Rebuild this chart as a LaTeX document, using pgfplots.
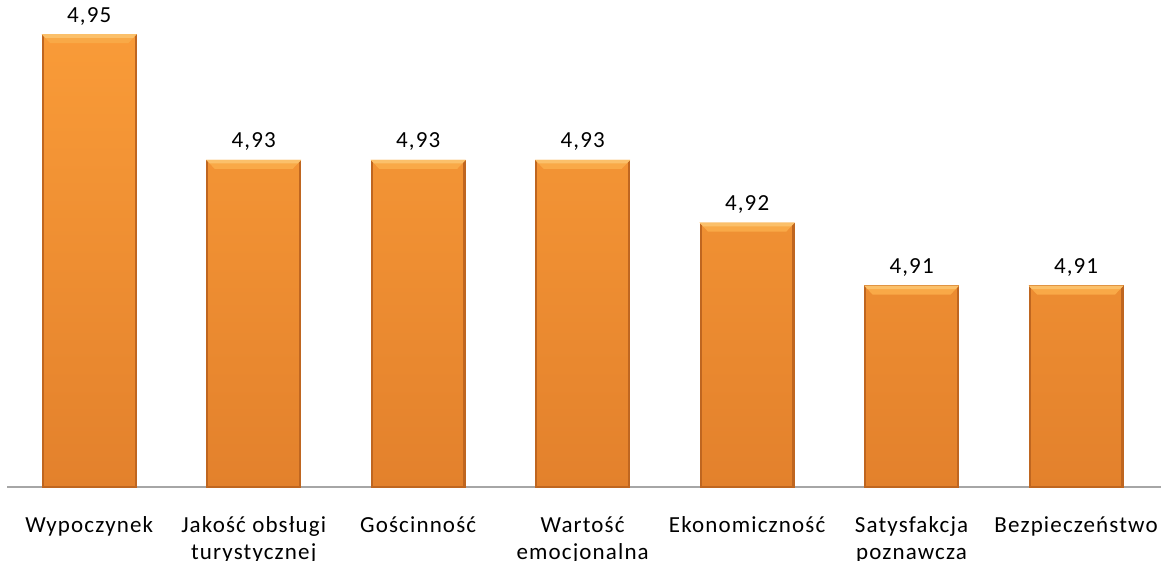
\documentclass[border=0pt]{standalone}
\usepackage{pgfplots}
\pgfplotsset{compat=1.18}
\usepackage{pgfplotstable}
\usepackage{fontspec}
\setmainfont{Carlito}[LetterSpace=5]

\definecolor{barTop}{HTML}{F99B38}
\definecolor{barBot}{HTML}{E3812C}
\definecolor{barEdge}{HTML}{BF6620}
\definecolor{bevelHi}{HTML}{FBC06A}
\definecolor{bevelLo}{HTML}{F9A947}
\definecolor{axisGray}{HTML}{A6A6A6}

% mean scores per category
\pgfplotstableread{
idx score
0 4.95
1 4.93
2 4.93
3 4.93
4 4.92
5 4.91
6 4.91
}\scores

% value axis starts here
\def\base{4.8781}

% lit bevel along the top edge of a bar (47.5pt wide)
\pgfdeclareplotmark{bevel}{%
  \pgfsetfillcolor{bevelLo}%
  \pgfpathmoveto{\pgfpoint{-23.75pt}{0.5pt}}%
  \pgfpathlineto{\pgfpoint{23.75pt}{0.5pt}}%
  \pgfpathlineto{\pgfpoint{19.5pt}{-4pt}}%
  \pgfpathlineto{\pgfpoint{-19.5pt}{-4pt}}%
  \pgfpathclose
  \pgfusepath{fill}%
  \pgfsetfillcolor{bevelHi}%
  \pgfpathmoveto{\pgfpoint{-23.75pt}{0.5pt}}%
  \pgfpathlineto{\pgfpoint{23.75pt}{0.5pt}}%
  \pgfpathlineto{\pgfpoint{22pt}{-1.3pt}}%
  \pgfpathlineto{\pgfpoint{-22pt}{-1.3pt}}%
  \pgfpathclose
  \pgfusepath{fill}%
}

\begin{document}
\begin{tikzpicture}
\begin{axis}[
  name=ax,
  scale only axis,
  width=575.65pt, height=243.5pt,
  xmin=-0.5, xmax=6.5,
  ymin=0, ymax=0.0775,
  axis x line*=bottom,
  hide y axis,
  x axis line style={draw=axisGray, line width=0.75pt, -, shorten >=-1.35pt},
  xtick=data,
  xticklabels={
    {\rule{0pt}{9pt}Wypoczynek},
    {\rule{0pt}{9pt}Jakość obsługi\\turystycznej},
    {\rule{0pt}{9pt}Gościnność},
    {\rule{0pt}{9pt}Wartość\\emocjonalna},
    {\rule{0pt}{9pt}Ekonomiczność},
    {\rule{0pt}{9pt}Satysfakcja\\poznawcza},
    {\rule{0pt}{9pt}Bezpieczeństwo}},
  major tick length=0pt,
  xticklabel style={anchor=north, inner sep=0pt, align=center, yshift=-13.35pt,
    font=\fontsize{11.5pt}{13.5pt}\selectfont, text=black},
  /pgf/number format/.cd, fixed, fixed zerofill, precision=2, use comma,
    assume math mode=true,
  /pgfplots/.cd,
  every node near coord/.append style={anchor=base, yshift=6.5pt, inner sep=0pt,
    font=\fontsize{11.5pt}{13.5pt}\selectfont, text=black},
  clip=false,
]
% bars
\addplot[ybar, bar width=46.4pt, draw=barEdge, line width=1.1pt,
  top color=barTop, bottom color=barBot,
  point meta=explicit, nodes near coords]
  table[x=idx, y expr=\thisrow{score}-\base, meta=score] {\scores};
% top bevel of each bar
\addplot[only marks, mark=bevel]
  table[x=idx, y expr=\thisrow{score}-\base] {\scores};
\end{axis}
\pgfresetboundingbox
\path ([xshift=-3.5pt,yshift=-37pt]ax.south west) rectangle ([xshift=1.35pt]ax.north east);
\end{tikzpicture}
\end{document}
